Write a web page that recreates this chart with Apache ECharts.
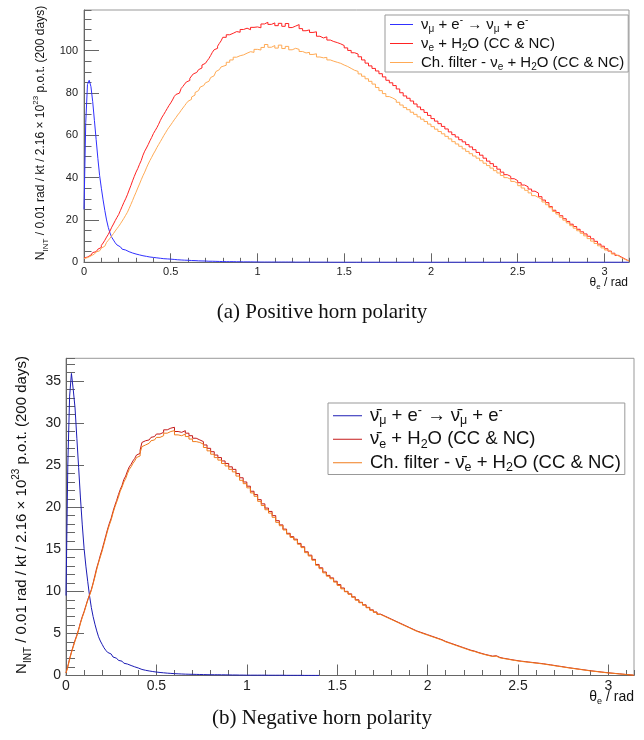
<!DOCTYPE html>
<html><head><meta charset="utf-8">
<script src="https://cdn.jsdelivr.net/npm/echarts@6/dist/echarts.min.js"></script>
<style>html,body{margin:0;padding:0;background:#fff}#c{width:644px;height:740px}</style>
</head><body><div id="c"></div>
<script>
// ---------- data (histogram contents per bin) ----------
const fineBin = 0.01;    // rad
const coarseBin = 0.02;  // rad (used after the steep rise)
const xTickStep = 0.5;
const topYTickStep = 20;
const botYTickStep = 5;

// (a) positive horn polarity
const topBlue = [
25,66,84,86,83,76,67,58,49,41,35,29.5,24.5,20,16.5,13.8,11.8,10.5,9.2,8.2,
7.3,6.7,6.2,5.8,5.4,5.0,4.7,4.4,4.2,3.9,3.7,3.5,3.3,3.1,3.0,2.8,2.7,2.5,2.4,2.3,
2.2,2.1,2.0,1.9,1.8,1.7,1.7,1.6,1.5,1.5,1.4,1.35,1.3,1.2,1.2,1.1,1.1,1.0,1.0,0.95,
0.9,0.85,0.8,0.8,0.75,0.7,0.7,0.65,0.6,0.6,0.55,0.5,0.5,0.5,0.45,0.45,0.4,0.4,0.4,0.35,
0.35,0.3,0.3,0.3,0.3,0.3,0.25,0.25,0.25,0.25,0.25,0.2,0.2,0.2,0.2,0.2,0.15,0.15,0.15,0.15,
0.15,0.1,0.1,0.1,0.1,0.1,0.1,0.1,0.1,0.1,0.1,0.1,0.1,0.1,0.1,0.1,0.1,0.1,0.1,0.1,
0.05,0.05,0.05,0.05,0.05,0.05,0.05,0.05,0.05,0.05,0.05,0.05,0.05,0.05,0.05,0.05,0.05,0.05,0.05,0.05,
0,0,0,0,0,0,0,0,0,0,0,0,0,0,0,0,0,0,0,0,
0,0,0,0,0,0,0,0,0,0,0,0,0,0,0,0,0,0,0,0,
0,0,0,0,0,0,0,0,0,0,0,0,0,0,0,0,0,0,0,0,
0,0,0,0,0,0,0,0,0,0,0,0,0,0,0,0,0,0,0,0,
0,0,0,0,0,0,0,0,0,0,0,0,0,0,0,0,0,0,0,0,
0,0,0,0,0,0,0,0,0,0,0,0,0,0,0,0,0,0,0,0,
0,0,0,0,0,0,0,0,0,0,0,0,0,0,0,0,0,0,0,0,
0,0,0,0,0,0,0,0,0,0,0,0,0,0,0,0,0,0,0,0,
0,0,0,0,0,0,0,0,0,0,0,0,0,0];

// 0.00–0.80 rad in 0.01 bins
const topRedFine = [
2.0,2.5,2.9,3.4,3.9,4.6,5.0,5.7,6.2,7.0,
8.0,9.1,10.4,11.9,13.2,14.8,16.6,18.1,19.7,21.2,
22.6,24.5,26.4,28.3,30.0,31.9,34.1,36.2,38.5,40.6,
42.6,44.3,46.3,48.1,50.6,52.5,54.0,55.6,57.4,59.0,
60.8,62.2,63.6,65.2,67.0,68.6,69.9,71.3,72.7,74.1,
75.3,76.7,78.3,79.3,79.9,80.7,82.1,83.1,84.2,85.2,
85.9,86.9,88.0,89.0,89.7,90.5,91.0,91.8,93.2,94.0,
94.4,95.2,96.3,97.7,99.2,100.4,101.1,102.1,103.4,104.6];
// 0.80–3.14 rad in 0.02 bins
const topRedCoarse = [
106.3,107.5,108.2,109.0,108.7,110.0,110.6,109.9,111.0,111.2,110.8,112.6,113.4,112.4,113.1,111.8,112.9,111.5,112.8,110.9,
111.6,112.3,110.4,109.4,109.8,108.6,108.9,106.8,106.0,106.5,105.0,104.3,103.8,103.2,102.4,101.3,100.1,99.0,98.4,97.1,
95.6,94.1,92.8,91.6,90.4,89.1,87.6,86.0,84.8,83.5,81.9,80.1,78.6,77.5,76.2,74.8,73.4,72.1,70.8,69.4,
67.9,66.7,65.5,64.2,63.0,61.6,60.3,59.2,57.9,56.9,55.6,54.5,53.2,51.9,50.6,49.2,47.8,46.6,45.3,44.0,
42.6,41.4,40.6,39.5,38.6,37.6,36.5,35.7,34.6,33.6,32.7,31.0,29.4,28.2,26.3,24.6,23.5,22.0,20.6,19.3,
18.0,16.9,15.6,14.4,13.4,12.3,11.1,9.9,8.6,7.6,6.4,5.3,4.3,3.3,2.4,1.5,0.7];

const topOrangeFine = [
1.8,2.2,2.6,3.0,3.4,3.9,4.4,4.9,5.4,6.1,
6.7,7.6,8.4,9.4,10.4,11.4,12.5,13.6,14.8,15.9,
17.0,18.2,19.5,20.8,22.2,23.6,25.4,27.3,29.2,31.2,
33.1,35.1,37.0,39.0,40.9,42.6,44.6,46.4,48.1,49.6,
51.2,52.6,54.2,55.6,57.0,58.4,59.9,61.2,62.6,63.8,
64.9,66.1,67.3,68.4,69.6,70.6,71.8,72.9,74.0,75.1,
76.1,77.0,78.1,79.0,80.2,81.1,82.0,82.8,83.5,84.1,
84.8,85.5,86.4,87.3,88.1,89.0,90.1,91.0,91.7,92.3];
const topOrangeCoarse = [
93.1,94.5,95.6,96.9,97.6,98.0,98.8,99.5,99.2,100.6,100.3,101.5,102.9,101.6,102.4,101.2,102.6,101.0,102.0,100.4,
101.1,100.6,99.6,98.9,99.2,98.2,98.5,97.0,96.6,96.8,95.6,95.0,94.5,94.0,93.2,92.5,91.6,90.7,90.2,89.0,
87.9,86.7,85.5,84.2,82.6,81.1,79.7,78.3,77.6,76.7,75.6,74.3,73.1,72.1,70.9,69.9,68.7,67.6,66.5,65.3,
64.1,62.9,61.8,60.7,59.5,58.3,57.0,55.9,54.8,53.6,52.4,51.3,50.2,49.2,48.0,46.8,45.7,44.5,43.3,42.2,
41.0,40.0,39.2,38.2,37.3,36.2,35.1,34.0,32.8,31.5,30.6,29.7,28.5,27.2,25.8,24.0,22.8,21.3,19.9,18.6,
17.3,16.1,14.9,13.7,12.5,11.2,10.0,8.9,7.8,6.8,5.8,4.9,3.9,3.0,2.1,1.3,0.6];

// (b) negative horn polarity
const botBlue = [
9.5,25,33.2,35.9,34.0,31.8,28.2,24.7,21.1,17.9,15.1,13.0,11.2,9.5,8.1,7.0,6.1,5.3,4.6,4.1,
3.7,3.3,3.0,2.75,2.55,2.35,2.2,2.05,1.9,1.8,1.7,1.58,1.46,1.36,1.27,1.19,1.11,1.03,0.96,0.89,
0.78,0.72,0.67,0.62,0.58,0.54,0.5,0.47,0.44,0.41,0.38,0.36,0.34,0.32,0.3,0.28,0.26,0.25,0.23,0.22,
0.21,0.2,0.19,0.18,0.17,0.16,0.15,0.15,0.14,0.14,0.13,0.13,0.12,0.12,0.11,0.11,0.1,0.1,0.1,0.09,
0.09,0.09,0.09,0.09,0.08,0.08,0.08,0.08,0.07,0.07,0.07,0.06,0.06,0.06,0.05,0.05,0.05,0.05,0.04,0.04,
0.04,0.04,0.04,0.04,0.04,0.04,0.04,0.04,0.04,0.04,0.03,0.03,0.03,0.03,0.03,0.03,0.03,0.03,0.03,0.03,
0.02,0.02,0.02,0.02,0.02,0.02,0.02,0.02,0.02,0.02,0.01,0.01,0.01,0.01,0.01,0.01,0.01,0.01,0.01,0.01];

// 0.00–0.50 rad in 0.01 bins
const botRedFine = [
0.3,1.1,2.0,2.8,3.5,4.2,4.8,5.5,6.3,7.0,
7.6,8.3,9.0,9.6,10.2,11.0,11.9,12.8,13.5,14.3,
15.0,15.8,16.6,17.4,18.1,18.7,19.5,20.2,20.8,21.5,
22.1,22.6,23.3,23.7,24.3,24.8,25.1,25.5,25.8,26.2,
26.4,26.8,27.7,27.9,27.8,28.0,28.1,28.3,28.4,28.5];
// 0.50–3.14 rad in 0.02 bins
const botRedCoarse = [
28.7,28.9,29.2,29.4,29.5,29.0,28.9,29.1,28.8,28.5,28.2,28.0,27.8,27.4,27.0,
26.6,26.2,25.9,25.5,25.2,24.8,24.5,24.0,23.5,23.0,22.5,21.9,21.5,20.9,20.4,19.9,19.5,19.0,18.4,17.9,
17.4,16.9,16.5,16.2,15.7,15.3,14.7,14.3,13.8,13.2,12.8,12.3,11.9,11.6,11.2,10.8,10.4,10.0,9.7,9.35,
9.0,8.7,8.4,8.1,7.8,7.55,7.3,7.1,6.9,6.7,6.5,6.3,6.1,5.9,5.7,5.5,5.3,5.15,5.0,4.85,
4.7,4.55,4.4,4.25,4.05,3.9,3.75,3.6,3.45,3.3,3.15,3.0,2.9,2.75,2.62,2.5,2.4,2.3,2.35,2.15,
2.05,1.98,1.9,1.83,1.76,1.7,1.65,1.6,1.55,1.5,1.45,1.4,1.33,1.27,1.2,1.13,1.07,1.0,0.93,0.87,
0.81,0.75,0.69,0.63,0.57,0.52,0.47,0.42,0.37,0.32,0.28,0.24,0.2,0.16,0.12,0.08,0.04];

const botOrangeFine = [
0.3,1.0,1.9,2.7,3.4,4.1,4.7,5.4,6.2,6.9,
7.5,8.2,8.9,9.5,10.1,10.9,11.7,12.6,13.4,14.1,
14.8,15.6,16.4,17.2,17.9,18.5,19.3,20.0,20.6,21.2,
21.9,22.4,23.0,23.4,24.0,24.5,24.8,25.2,25.5,25.9,
26.1,26.5,27.2,27.4,27.4,27.6,27.7,27.9,28.0,28.1];
const botOrangeCoarse = [
28.3,28.5,28.8,29.0,29.1,28.6,28.5,28.7,28.4,28.1,27.8,27.7,27.5,27.1,26.7,
26.3,25.9,25.6,25.2,24.9,24.5,24.2,23.7,23.2,22.8,22.3,21.7,21.3,20.7,20.2,19.7,19.3,18.8,18.2,17.8,
17.3,16.8,16.4,16.1,15.6,15.2,14.6,14.2,13.7,13.1,12.7,12.2,11.8,11.5,11.1,10.7,10.3,9.95,9.65,9.3,
8.95,8.65,8.35,8.05,7.75,7.5,7.25,7.05,6.85,6.65,6.45,6.25,6.05,5.85,5.65,5.45,5.25,5.1,4.95,4.8,
4.65,4.5,4.35,4.2,4.0,3.85,3.7,3.55,3.4,3.25,3.1,2.95,2.85,2.7,2.58,2.46,2.36,2.26,2.3,2.1,
2.02,1.95,1.87,1.8,1.73,1.67,1.62,1.57,1.52,1.47,1.42,1.37,1.3,1.24,1.17,1.1,1.04,0.97,0.91,0.85,
0.79,0.73,0.67,0.61,0.55,0.5,0.45,0.4,0.35,0.31,0.27,0.23,0.19,0.15,0.11,0.07,0.03];

const topLegendLabels = {
  tBlue: 'ν{sb|μ} + e{sp|-} → ν{sb|μ} + e{sp|-}',
  tRed: 'ν{sb|e} + H{sb|2}O (CC & NC)',
  tOrange: 'Ch. filter - ν{sb|e} + H{sb|2}O (CC & NC)'
};
const botLegendLabels = {
  bBlue: 'ν\u0304{sb|μ} + e{sp|-} → ν\u0304{sb|μ} + e{sp|-}',
  bRed: 'ν\u0304{sb|e} + H{sb|2}O (CC & NC)',
  bOrange: 'Ch. filter - ν\u0304{sb|e} + H{sb|2}O (CC & NC)'
};
const yTitle = 'N{sb|INT} / 0.01 rad / kt / 2.16 × 10{sp|23} p.o.t. (200 days)';
const xTitle = 'θ{sb|e} / rad';
const captionA = '(a) Positive horn polarity';
const captionB = '(b) Negative horn polarity';

// ---------- helpers ----------
const F = 'Liberation Sans, Arial, Helvetica, sans-serif';
function stepPoints(values, w, x0) {
  const pts = [];
  values.forEach((v, i) => { pts.push([x0 + i * w, v], [x0 + (i + 1) * w, v]); });
  return pts;
}
function histPoints(fine, coarse) {
  const pts = stepPoints(fine, fineBin, 0);
  return coarse ? pts.concat(stepPoints(coarse, coarseBin, fine.length * fineBin)) : pts;
}
function mainX(grid, fs, len) {
  return { gridIndex: grid, type: 'value', min: 0, max: Math.PI, interval: xTickStep,
    axisLine: { show: true, onZero: false, lineStyle: { color: '#666', width: 1 } },
    axisTick: { show: true, inside: true, length: len, lineStyle: { color: '#666' } },
    splitLine: { show: false },
    axisLabel: { fontFamily: F, fontSize: fs, color: '#222', margin: 4, showMaxLabel: false } };
}
function minorX(grid, len) {
  return { gridIndex: grid, type: 'value', min: 0, max: Math.PI, interval: 0.1, position: 'bottom',
    axisLine: { show: false }, axisLabel: { show: false }, splitLine: { show: false },
    axisTick: { show: true, inside: true, length: len, lineStyle: { color: '#666' } } };
}
function mainY(grid, max, step, fs, len, margin) {
  return { gridIndex: grid, type: 'value', min: 0, max: max, interval: step,
    axisLine: { show: true, onZero: false, lineStyle: { color: '#666', width: 1 } },
    axisTick: { show: true, inside: true, length: len, lineStyle: { color: '#666' } },
    splitLine: { show: false },
    axisLabel: { fontFamily: F, fontSize: fs, color: '#222', margin: margin, showMaxLabel: false } };
}
function minorY(grid, max, step, len) {
  return { gridIndex: grid, type: 'value', min: 0, max: max, interval: step, position: 'left',
    axisLine: { show: false }, axisLabel: { show: false }, splitLine: { show: false },
    axisTick: { show: true, inside: true, length: len, lineStyle: { color: '#666' } } };
}
function hist(name, pts, xi, yi, color) {
  return { type: 'line', name: name, xAxisIndex: xi, yAxisIndex: yi, data: pts,
    showSymbol: false, symbol: 'none', color: color, itemStyle: { color: color },
    lineStyle: { color: color, width: 1 }, clip: true, animation: false, silent: true };
}
// sub/superscript styles: shift = (line height - token line height) / 2
function richSet(sfs, sbLH, spLH, color) {
  return {
    sb: { fontFamily: F, fontSize: sfs, color: color, fill: color, lineHeight: sbLH, verticalAlign: 'bottom' },
    sp: { fontFamily: F, fontSize: sfs, color: color, fill: color, lineHeight: spLH, verticalAlign: 'top' }
  };
}
function legendBox(left, top, names, labels, fs, lh, sfs, sbLH, spLH, iw, pad) {
  return { show: true, left: left, top: top, orient: 'vertical', selectedMode: false,
    backgroundColor: '#fff', borderColor: '#999', borderWidth: 1, borderRadius: 0,
    padding: pad, itemGap: 0, itemWidth: iw, itemHeight: 1, icon: 'rect',
    data: names, formatter: n => labels[n],
    textStyle: { fontFamily: F, fontSize: fs, color: '#111', lineHeight: lh, padding: [0, 0, 0, 3],
      rich: richSet(sfs, sbLH, spLH, '#111') } };
}
function gText(x, y, text, fs, lh, sfs, sbLH, spLH, align, rot, family) {
  return { type: 'text', x: x, y: y, rotation: rot || 0, silent: true,
    style: { text: text, fontFamily: family || F, fontSize: fs, fill: '#111', lineHeight: lh,
      align: align, verticalAlign: 'middle', rich: richSet(sfs, sbLH, spLH, '#111') } };
}

const chart = echarts.init(document.getElementById('c'), null, { renderer: 'canvas' });
chart.setOption({
  animation: false,
  backgroundColor: '#fff',
  grid: [
    { left: 84, top: 10, width: 545, height: 252.3, show: true, borderColor: '#999', borderWidth: 1, backgroundColor: 'transparent', outerBoundsMode: 'none' },
    { left: 66, top: 358.3, width: 568, height: 317.2, show: true, borderColor: '#999', borderWidth: 1, backgroundColor: 'transparent', outerBoundsMode: 'none' }
  ],
  xAxis: [ mainX(0, 11, 9), minorX(0, 4.5), mainX(1, 14, 11), minorX(1, 5.5) ],
  yAxis: [ mainY(0, 119.2, topYTickStep, 11, 15, 6), minorY(0, 119.2, 5, 7.5),
           mainY(1, 37.7, botYTickStep, 14, 18, 5), minorY(1, 37.7, 1, 9) ],
  legend: [
    legendBox(385, 15, ['tBlue', 'tRed', 'tOrange'], topLegendLabels, 15, 19, 10, 8.5, 11, 23, [0, 4, 0, 5]),
    legendBox(328, 403, ['bBlue', 'bRed', 'bOrange'], botLegendLabels, 18.5, 23.5, 12.5, 10.5, 14, 29, [1, 4, 0, 5])
  ],
  series: [
    hist('tBlue', histPoints(topBlue), 0, 0, '#3030ff'),
    hist('tRed', histPoints(topRedFine, topRedCoarse), 0, 0, '#ff2222'),
    hist('tOrange', histPoints(topOrangeFine, topOrangeCoarse), 0, 0, '#ffaa55'),
    hist('bBlue', histPoints(botBlue), 2, 2, '#1c1cb4'),
    hist('bRed', histPoints(botRedFine, botRedCoarse), 2, 2, '#c41a1a'),
    hist('bOrange', histPoints(botOrangeFine, botOrangeCoarse), 2, 2, '#f07c1c')
  ],
  graphic: [
    gText(41, 133, yTitle, 12, 18, 8, 8, 10, 'center', Math.PI / 2),
    gText(22, 515, yTitle, 15, 22, 10, 10, 12, 'center', Math.PI / 2),
    gText(628, 283, xTitle, 12, 16, 8, 8, 10, 'right', 0),
    gText(634, 697, xTitle, 14, 18, 9, 9, 11, 'right', 0),
    gText(322, 312, captionA, 21, 24, 12, 12, 12, 'center', 0, 'Liberation Serif, serif'),
    gText(322, 718, captionB, 21, 24, 12, 12, 12, 'center', 0, 'Liberation Serif, serif')
  ]
});
</script>
</body></html>
